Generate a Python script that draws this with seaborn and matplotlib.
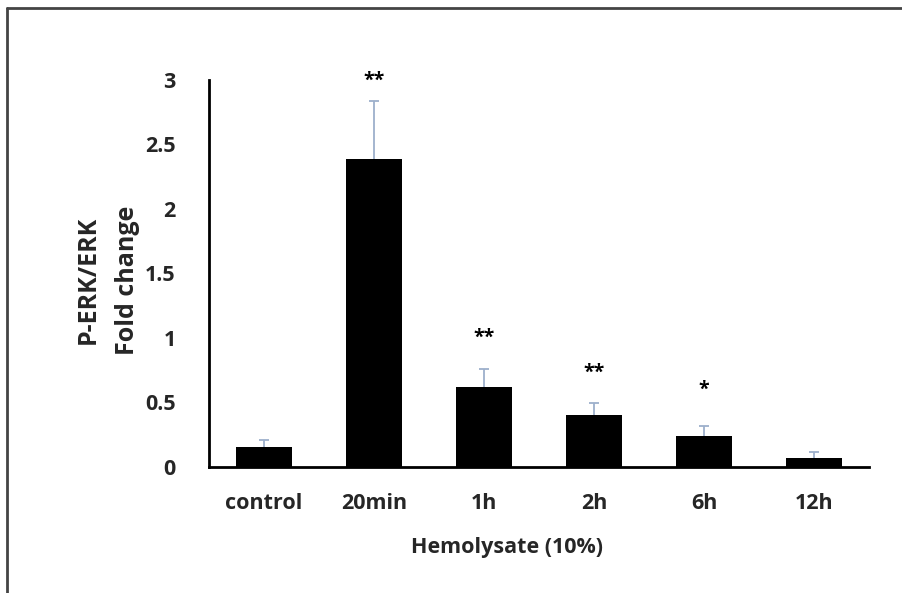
import matplotlib
matplotlib.use("Agg")
import matplotlib.pyplot as plt
import seaborn as sns
import pandas as pd
import numpy as np
from matplotlib.lines import Line2D

categories = ["control", "20min", "1h", "2h", "6h", "12h"]
values = [0.155, 2.39, 0.62, 0.40, 0.236, 0.065]
errors = [0.052, 0.445, 0.135, 0.095, 0.078, 0.052]
stars = ["", "**", "**", "**", "*", ""]
star_y = [0, 2.99, 1.0, 0.73, 0.60, 0]

sns.set_theme(style="white")
plt.rcParams['font.family'] = ['Open Sans', 'DejaVu Sans']

fig = plt.figure(figsize=(9.02, 5.93), dpi=100)
ax = fig.add_axes([209/902, 126.3/593, 660/902, 386.7/593])

df = pd.DataFrame({"cat": categories, "val": values})
sns.barplot(data=df, x="cat", y="val", color="black", width=0.51,
            errorbar=None, ax=ax, saturation=1, zorder=2, linewidth=0)

x = np.arange(len(categories))
eb = ax.errorbar(x, values, yerr=[np.zeros(len(errors)), errors], fmt="none",
                 ecolor="#9db0cc", elinewidth=1.3, capsize=3.5, capthick=1.3, zorder=1)
caps = eb[1]
if len(caps) >= 2:
    caps[0].set_visible(False)

for xi, s, sy in zip(x, stars, star_y):
    if s:
        ax.text(xi, sy, s, ha="center", va="center", fontsize=14,
                fontweight="bold", color="black")

ax.set_xlim(-0.5, 5.5)
ax.set_ylim(0, 3)
ax.set_yticks([0, 0.5, 1, 1.5, 2, 2.5, 3])
ax.set_yticklabels(["0", "0.5", "1", "1.5", "2", "2.5", "3"])
ax.tick_params(axis="both", length=0, labelsize=15.5)
ax.tick_params(axis="y", pad=24)
ax.tick_params(axis="x", pad=19)
for lab in ax.get_xticklabels() + ax.get_yticklabels():
    lab.set_fontweight("bold")
ax.set_xlabel("")
ax.set_ylabel("")
for side in ["top", "right"]:
    ax.spines[side].set_visible(False)
for side in ["left", "bottom"]:
    ax.spines[side].set_color("black")
    ax.spines[side].set_linewidth(2)
    ax.spines[side].set_zorder(3)

fig.text(88/902, 1 - 280/593, "P-ERK/ERK", rotation=90, ha="center", va="center",
         fontsize=18, fontweight="bold")
fig.text(128/902, 1 - 280/593, "Fold change", rotation=90, ha="center", va="center",
         fontsize=18, fontweight="bold")
fig.text(507/902, 1 - 548/593, "Hemolysate (10%)", ha="center", va="center",
         fontsize=15.5, fontweight="bold")

# figure frame (top and left)
fig.add_artist(Line2D([7.5/902, 7.5/902], [0, 1 - 7.5/593], transform=fig.transFigure,
                      color="#444444", linewidth=2))
fig.add_artist(Line2D([7.5/902, 1], [1 - 7.5/593, 1 - 7.5/593], transform=fig.transFigure,
                      color="#444444", linewidth=2))

fig.savefig("out.png", dpi=100, facecolor="white")
